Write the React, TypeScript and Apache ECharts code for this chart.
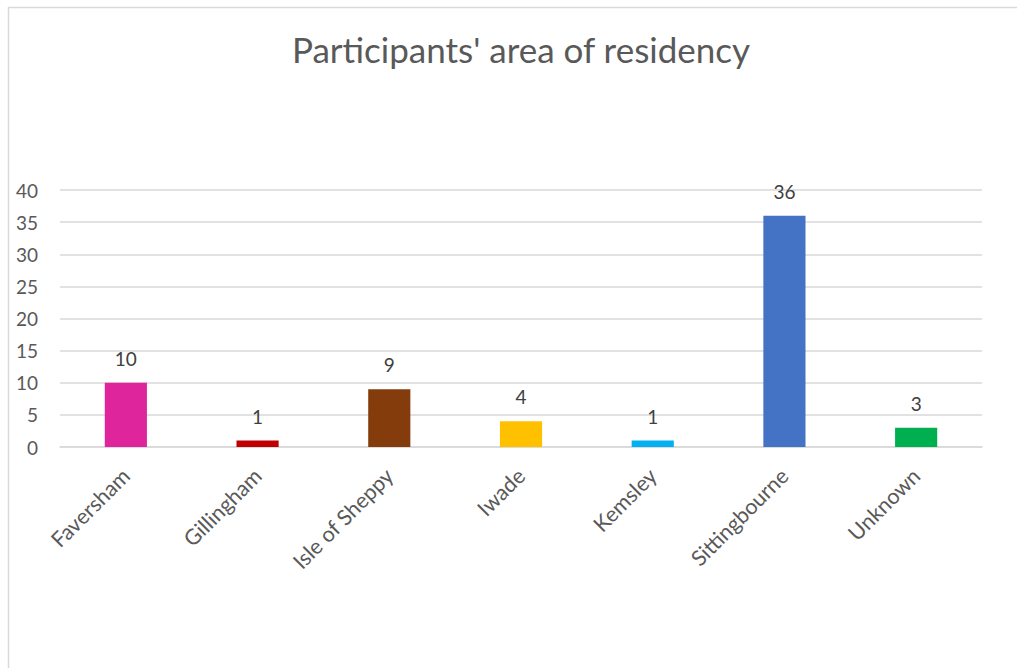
import React, { useEffect, useRef } from "react";
import * as echarts from "echarts";

const categories = ["Faversham", "Gillingham", "Isle of Sheppy", "Iwade", "Kemsley", "Sittingbourne", "Unknown"];
const values = [10, 1, 9, 4, 1, 36, 3];
const colors = ["#DF259C", "#C00000", "#843C0C", "#FFC000", "#00B0F0", "#4472C4", "#00B050"];
const yTicks = [0, 5, 10, 15, 20, 25, 30, 35, 40];

export default function App() {
  const ref = useRef<HTMLDivElement>(null);
  useEffect(() => {
    if (!ref.current) return;
    const chart = echarts.init(ref.current, null, { renderer: "svg" });
    const font = "Lato, 'Open Sans', sans-serif";
    chart.setOption({
      animation: false,
      backgroundColor: "#ffffff",
      title: {
        text: "Participants' area of residency",
        left: 516,
        textAlign: "center",
        top: 26,
        textStyle: { fontFamily: font, fontSize: 35, fontWeight: "normal", color: "#595959" },
      },
      graphic: [
        {
          type: "rect",
          shape: { x: 8.5, y: 7.5, width: 1100, height: 800 },
          style: { fill: "none", stroke: "#D9D9D9", lineWidth: 1.5 },
          silent: true,
        },
      ],
      grid: { left: 60, right: 35, top: 190, bottom: 221, containLabel: false },
      xAxis: {
        type: "category",
        data: categories,
        axisLine: { show: true, lineStyle: { color: "#D9D9D9", width: 1.5 } },
        axisTick: { show: false },
        axisLabel: {
          rotate: 45,
          interval: 0,
          margin: 25,
          fontFamily: font,
          fontSize: 21.5,
          color: "#595959",
        },
      },
      yAxis: {
        type: "value",
        min: yTicks[0],
        max: yTicks[yTicks.length - 1],
        interval: 5,
        axisLine: { show: false },
        axisTick: { show: false },
        splitLine: { lineStyle: { color: "#D9D9D9", width: 1.5 } },
        axisLabel: { margin: 22, fontFamily: font, fontSize: 19, color: "#595959" },
      },
      series: [
        {
          type: "bar",
          barWidth: "32%",
          data: values.map((v, i) => ({ value: v, itemStyle: { color: colors[i] } })),
          label: {
            show: true,
            position: "top",
            distance: 15,
            fontFamily: font,
            fontSize: 19,
            color: "#404040",
          },
        },
      ],
    });
    return () => chart.dispose();
  }, []);
  return (
    <div
      ref={ref}
      style={{ position: "fixed", left: 0, top: 0, width: 1017, height: 668 }}
    />
  );
}
